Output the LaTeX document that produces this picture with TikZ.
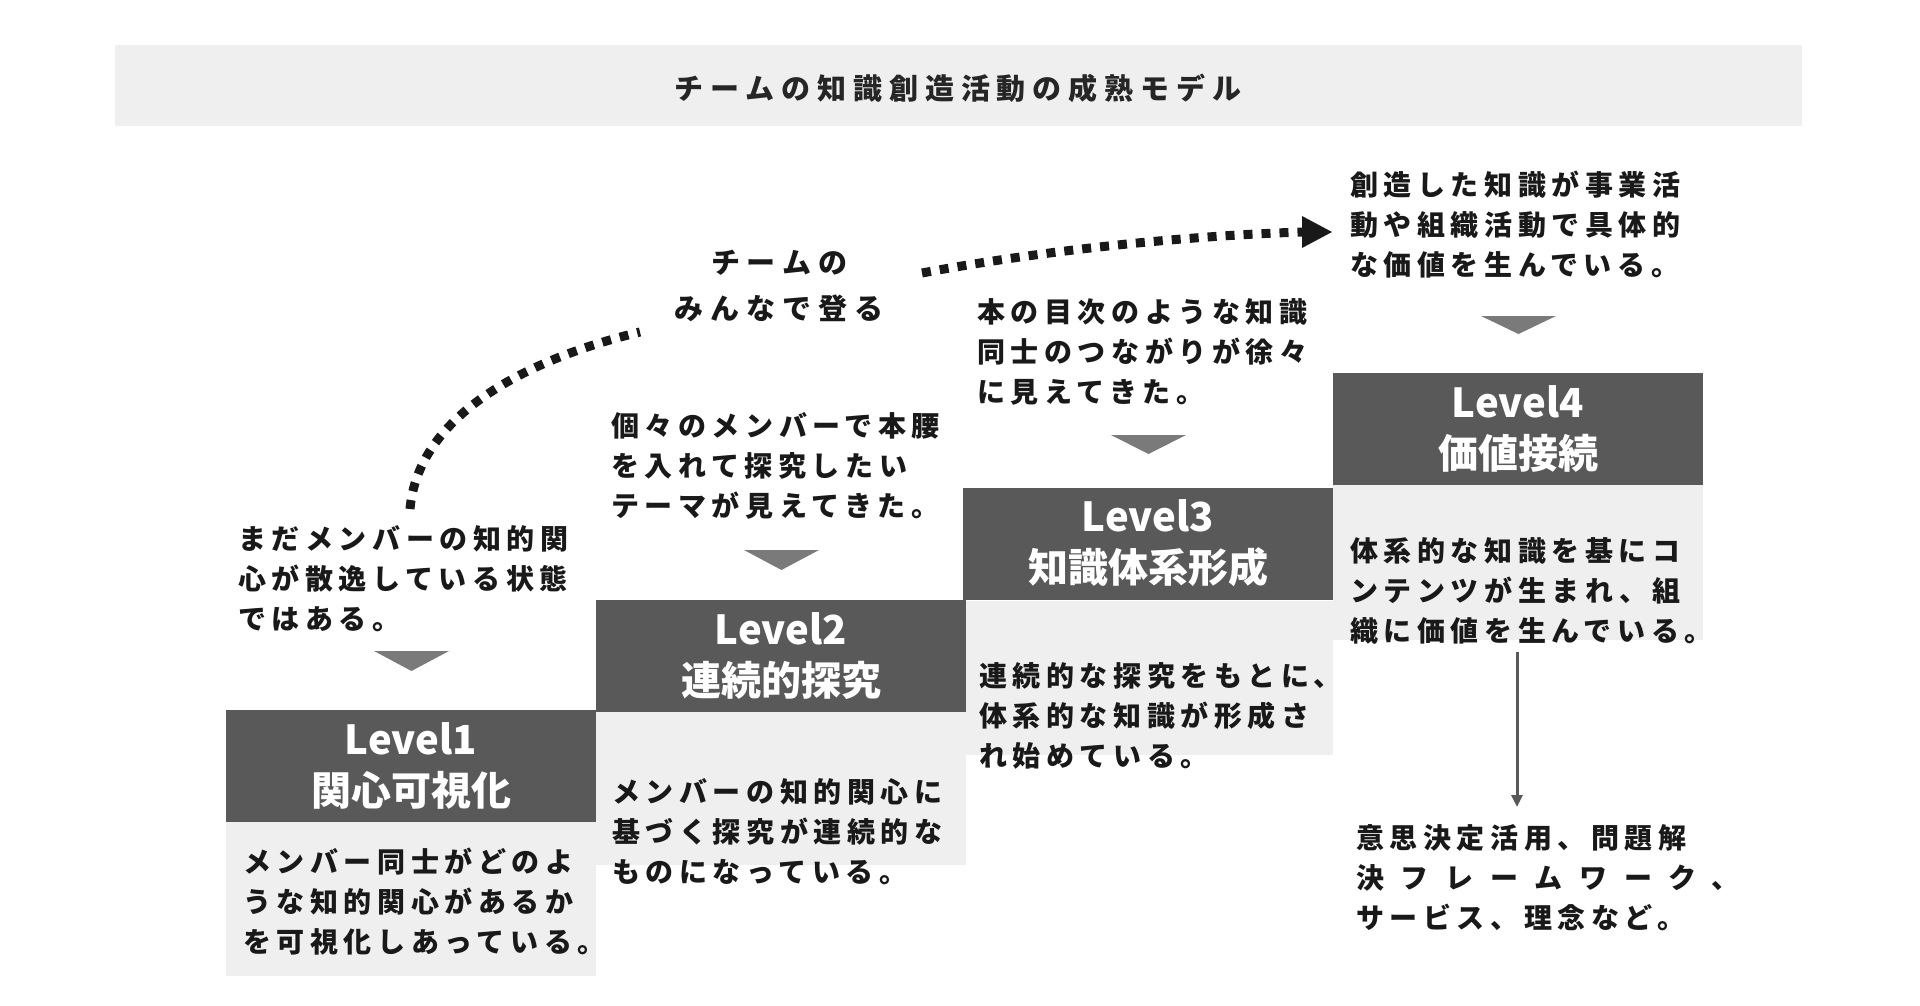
\documentclass[tikz,border=0pt]{standalone}
\usepackage{fontspec}
\newfontfamily\jp{Noto Sans CJK JP}[LetterSpace=20]
\newfontfamily\jpt{Noto Sans CJK JP}[LetterSpace=24]
\newfontfamily\jpl{Noto Sans CJK JP}
\newfontfamily\jpw{Noto Sans CJK JP}[LetterSpace=60]
\usetikzlibrary{arrows.meta}
\definecolor{dk}{HTML}{595959}
\definecolor{lt}{HTML}{EFEFEF}
\definecolor{tri}{HTML}{7A7A7A}
\tikzset{
  desc/.style={anchor=west,align=left,inner sep=0pt,font=\jp\bfseries\fontsize{28}{40}\selectfont,text=black!90},
  lvl/.style={fill=dk,text=white,minimum width=370pt,minimum height=112pt,inner sep=0pt,align=center,font=\jpl\bfseries\fontsize{40}{51}\selectfont},
  body/.style={fill=lt,minimum width=370pt,inner sep=0pt,anchor=north},
  tridown/.style={fill=tri},
  dots/.style={line width=9pt,dash pattern=on 9pt off 9pt,black!90}
}
\begin{document}
\begin{tikzpicture}[x=1pt,y=-1pt]
\useasboundingbox (0,0) rectangle (1920,1005);
\fill[lt] (115,45) rectangle (1802,126);
\node[font=\jpt\bfseries\fontsize{29}{34}\selectfont,text=black!85] (title) at (958,88) {チームの知識創造活動の成熟モデル};
% bodies
\node[body,minimum height=155pt] (b1) at (411,821) {};
\node[body,minimum height=153pt] (b2) at (781,712) {};
\node[body,minimum height=154pt] (b3) at (1148,601) {};
\node[body,minimum height=155pt] (b4) at (1518,485) {};
% level heads
\node[lvl] (l1) at (411,765.5) {Level1\\関心可視化};
\node[lvl] (l2) at (781,656) {Level2\\連続的探究};
\node[lvl] (l3) at (1148,543.5) {Level3\\知識体系形成};
\node[lvl] (l4) at (1518,429) {Level4\\価値接続};
% triangles
\fill[tridown] (374,651) -- (449,651) -- (411.5,671) -- cycle;
\fill[tridown] (744,550) -- (819,550) -- (781.5,570) -- cycle;
\fill[tridown] (1111,435) -- (1186,435) -- (1148.5,454) -- cycle;
\fill[tridown] (1481,316) -- (1556,316) -- (1518.5,334) -- cycle;
% texts in bodies
\node[desc] (d1) at (243,902) {メンバー同士がどのよ\\うな知的関心があるか\\を可視化しあっている。};
\node[desc] (d2) at (612,832) {メンバーの知的関心に\\基づく探究が連続的な\\ものになっている。};
\node[desc] (d3) at (979,716) {連続的な探究をもとに、\\体系的な知識が形成さ\\れ始めている。};
\node[desc] (d4) at (1350,591) {体系的な知識を基にコ\\ンテンツが生まれ、組\\織に価値を生んでいる。};
% texts above
\node[desc] (a1) at (238,579) {まだメンバーの知的関\\心が散逸している状態\\ではある。};
\node[desc] (a2) at (611,466) {個々のメンバーで本腰\\を入れて探究したい\\テーマが見えてきた。};
\node[desc] (a3) at (977,352) {本の目次のような知識\\同士のつながりが徐々\\に見えてきた。};
\node[desc] (a4) at (1350,225) {創造した知識が事業活\\動や組織活動で具体的\\な価値を生んでいる。};
\node[desc] (out) at (1356,878) {意思決定活用、問題解\\{\jpw 決フレームワーク、}\\サービス、理念など。};
\node[desc,anchor=center,align=center,font=\jpt\bfseries\fontsize{29}{46}\selectfont] (climb) at (779,286) {チームの\\みんなで登る};
% dotted path
\coordinate (s1) at (410,509);
\coordinate (e1) at (640,332);
\coordinate (s2) at (922,273);
\coordinate (e2) at (1302,232);
\draw[dots] (s1) .. controls (418,418) and (520,361) .. (e1);
\draw[dots] (s2) .. controls (1040,251) and (1180,236) .. (e2);
\fill[black!90] (1302,216) -- (1332,232) -- (1302,248) -- cycle;
% vertical arrow
\coordinate (v1) at (1517,652);
\coordinate (v2) at (1517,807);
\draw[dk,line width=3pt,-{Triangle[length=12pt,width=11pt]}] (v1) -- (v2);
\end{tikzpicture}
\end{document}
